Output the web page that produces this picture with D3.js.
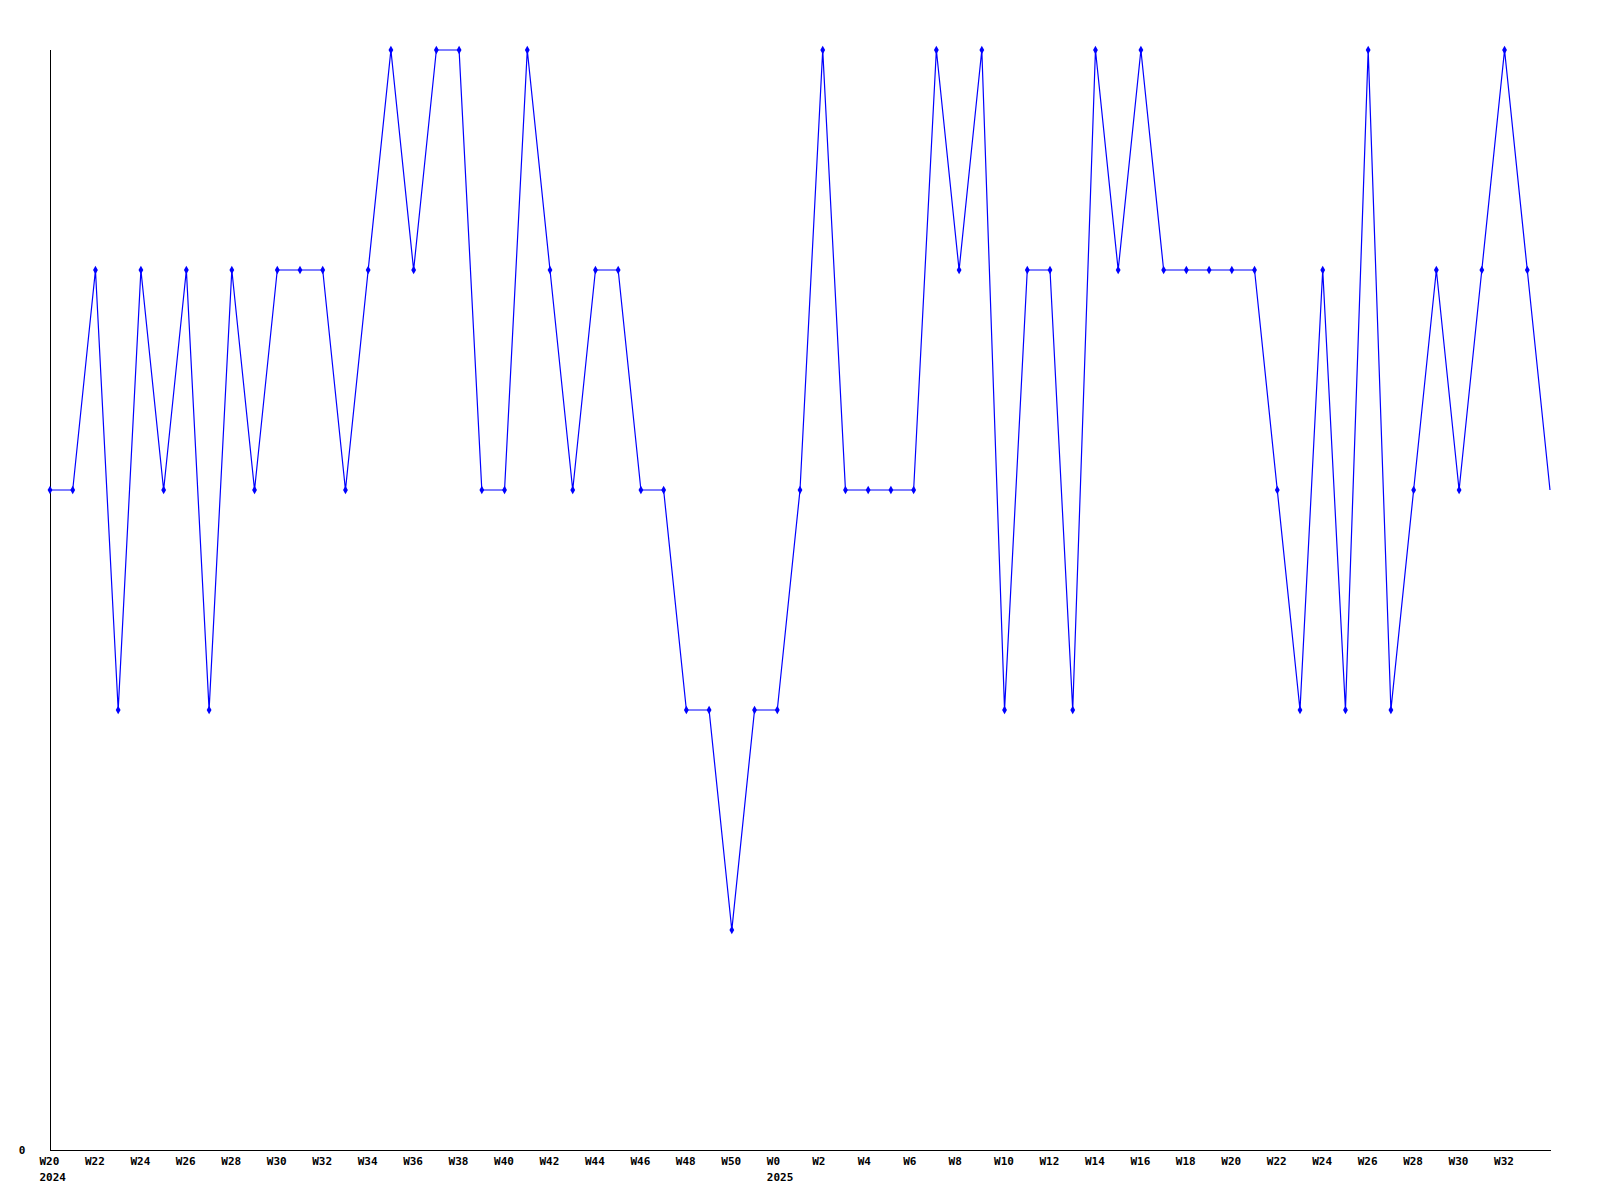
<!DOCTYPE html>
<html>
<head>
<meta charset="utf-8">
<script src="https://cdn.jsdelivr.net/npm/d3@7"></script>
<style>
  html, body { margin: 0; padding: 0; background: #fff; }
  svg { display: block; }
  text { font-family: "DejaVu Sans Mono", monospace; font-weight: bold; font-size: 11px; fill: #000; }
</style>
</head>
<body>
<svg id="chart" width="1600" height="1200"></svg>
<script>
// Weekly series, W20 2024 .. W34 2025 (67 weeks)
const values = [3,3,4,2,4,3,4,2,4,3,4,4,4,3,4,5,4,5,5,3,3,5,4,3,4,4,3,3,2,2,1,2,2,3,5,3,3,3,3,5,4,5,2,4,4,2,5,4,5,4,4,4,4,4,3,2,4,2,5,2,3,4,3,4,5,4,3];
const tickLabels = ["W20","W22","W24","W26","W28","W30","W32","W34","W36","W38","W40","W42","W44","W46","W48","W50",
                    "W0","W2","W4","W6","W8","W10","W12","W14","W16","W18","W20","W22","W24","W26","W28","W30","W32"];
const tickIndex = [0,2,4,6,8,10,12,14,16,18,20,22,24,26,28,30,32,34,36,38,40,42,44,46,48,50,52,54,56,58,60,62,64];
const yearLabels = [{index: 0, label: "2024"}, {index: 32, label: "2025"}];
const yTicks = [0];
const yMax = 5;

(function () {
const svg = d3.select("#chart");
const mLeft = 50, mRight = 1550, mTop = 50, mBottom = 1150;
const labelShift = 10.5; // labels start half a 3-char label left of tick

const x = d3.scaleLinear().domain([0, values.length - 1]).range([mLeft, mRight]);
const y = d3.scaleLinear().domain([0, yMax]).range([mBottom, mTop]);

// axes lines
svg.append("line").attr("x1", mLeft + 0.5).attr("x2", mLeft + 0.5).attr("y1", mTop).attr("y2", mBottom)
  .attr("stroke", "#000").attr("stroke-width", 1);
svg.append("line").attr("x1", mLeft).attr("x2", mRight + 1).attr("y1", mBottom + 0.5).attr("y2", mBottom + 0.5)
  .attr("stroke", "#000").attr("stroke-width", 1);

// y tick labels
svg.selectAll("text.ytick").data(yTicks).enter().append("text")
  .attr("class", "ytick")
  .attr("x", 22).attr("y", d => y(d) + 4)
  .attr("text-anchor", "middle")
  .text(d => d);

// x tick labels
svg.selectAll("text.xtick").data(tickIndex).enter().append("text")
  .attr("class", "xtick")
  .attr("x", d => x(d) - labelShift).attr("y", mBottom + 15)
  .attr("text-anchor", "start")
  .text((d, i) => tickLabels[i]);

// year labels (left-aligned with the week label)
svg.selectAll("text.year").data(yearLabels).enter().append("text")
  .attr("class", "year")
  .attr("x", d => x(d.index) - labelShift)
  .attr("y", mBottom + 31)
  .attr("text-anchor", "start")
  .text(d => d.label);

// line
const line = d3.line().x((d, i) => x(i)).y(d => y(d));
svg.append("path").datum(values)
  .attr("d", line)
  .attr("fill", "none")
  .attr("stroke", "#0000ff")
  .attr("stroke-width", 1.2);

// markers (all but last point)
const sym = d3.symbol().type(d3.symbolDiamond).size(20);
svg.selectAll("path.mk").data(values.slice(0, values.length - 1)).enter().append("path")
  .attr("class", "mk")
  .attr("transform", (d, i) => `translate(${x(i)},${y(d)})`)
  .attr("d", sym)
  .attr("fill", "#0000ff");
})();
</script>
</body>
</html>
